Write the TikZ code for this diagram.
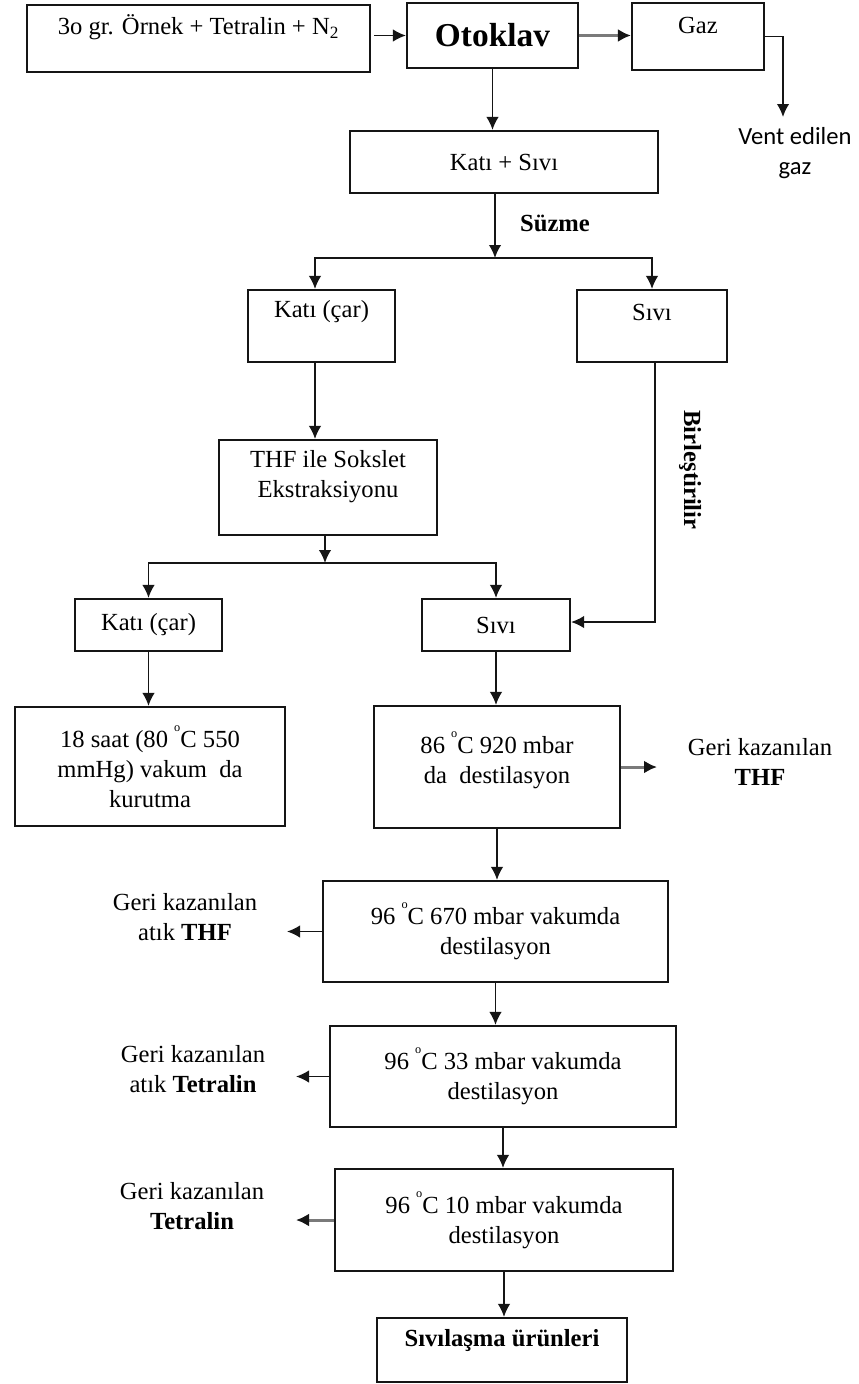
\documentclass[tikz,border=0pt]{standalone}
\usepackage{fontspec}
\setmainfont{Liberation Serif}
\newfontfamily\ventYazi{Carlito}
\definecolor{akisSiyah}{HTML}{151515}
\definecolor{akisGri}{HTML}{7A7A7A}
\usetikzlibrary{
	arrows.meta,
	positioning
}
\newcommand{\derece}{\raisebox{1.4ex}{\scriptsize o}}
\tikzset{
	kutuAkis/.style={
		draw=akisSiyah,
		line width=1.2pt,
		align=center,
		inner sep=3pt,
		font=\fontsize{14}{17}\selectfont
	},
	kutuBaslik/.style={
		kutuAkis,
		font=\fontsize{19}{22}\selectfont\bfseries
	},
	notAkis/.style={
		align=center,
		inner sep=1pt,
		font=\fontsize{14}{17}\selectfont
	},
	notKalin/.style={
		notAkis,
		font=\fontsize{14}{17}\selectfont\bfseries
	},
	okAkis/.style={
		-{Latex[length=2.6mm,width=2.5mm]},
		line width=1pt,
		draw=akisSiyah
	},
	okGri/.style={
		-{Latex[length=2.6mm,width=2.6mm,color=akisSiyah]},
		line width=1.7pt,
		draw=akisGri
	}
}

\begin{document}
\begin{tikzpicture}[x=0.2mm, y=-0.2mm]
	\useasboundingbox (0,0) rectangle (858,1384);
	\node[kutuAkis, minimum width=68.6mm, minimum height=13.4mm] (ornek) at (198.5,38.5) {3o gr. Örnek + Tetralin + N\textsubscript{2}\\[-0.4mm]\mbox{}};
	\node[kutuBaslik, minimum width=34.2mm, minimum height=13mm] (otoklav) at (492.5,35.5) {Otoklav};
	\node[kutuAkis, minimum width=26.4mm, minimum height=13.4mm] (gaz) at (698,36.5) {Gaz\\[-1.4mm]\mbox{}};
	\node[notAkis, font=\fontsize{14}{17}\selectfont\ventYazi] (vent) at (795,153) {Vent edilen\\gaz};
	\node[kutuAkis, minimum width=61.6mm, minimum height=12.4mm] (katiSivi) at (504,162) {Katı + Sıvı};
	\node[notKalin] (suzme) at (555,223) {Süzme};
	\node[kutuAkis, minimum width=29.4mm, minimum height=14.4mm] (kati1) at (321.5,326) {Katı (çar)\\[0.8mm]\mbox{}};
	\node[kutuAkis, minimum width=30mm, minimum height=14.4mm] (sivi1) at (652,326) {Sıvı\\[-0.4mm]\mbox{}};
	\node[kutuAkis, minimum width=43.6mm, minimum height=19mm] (sokslet) at (328,487.5) {THF ile Sokslet\\Ekstraksiyonu\\[-0.6mm]\mbox{}};
	\node[notKalin, rotate=-90] (birlestir) at (690,470) {Birleştirilir};
	\node[kutuAkis, minimum width=29.4mm, minimum height=10.4mm] (kati2) at (148.5,625) {Katı (çar)};
	\node[kutuAkis, minimum width=29.6mm, minimum height=10.4mm] (sivi2) at (496,625) {Sıvı};
	\node[kutuAkis, minimum width=54mm, minimum height=23.8mm] (kurutma) at (150,766.5) {18 saat (80 \derece C 550\\mmHg) vakum\ \ da\\kurutma};
	\node[kutuAkis, minimum width=49.2mm, minimum height=24.4mm] (dest1) at (497,767) {86 \derece C 920 mbar\\da\ \ destilasyon\\[-2.2mm]\mbox{}};
	\node[notAkis] (geriThf) at (760,762) {Geri kazanılan\\\textbf{THF}};
	\node[kutuAkis, minimum width=69mm, minimum height=20.2mm] (dest2) at (495.5,931.5) {96 \derece C 670 mbar vakumda\\destilasyon};
	\node[notAkis] (geriAtikThf) at (185,917.5) {Geri kazanılan\\atık \textbf{THF}};
	\node[kutuAkis, minimum width=69.2mm, minimum height=20.2mm] (dest3) at (503,1076.5) {96 \derece C 33 mbar vakumda\\destilasyon};
	\node[notAkis] (geriAtikTetralin) at (193,1069.5) {Geri kazanılan\\atık \textbf{Tetralin}};
	\node[kutuAkis, minimum width=67.6mm, minimum height=20.4mm] (dest4) at (504,1220) {96 \derece C 10 mbar vakumda\\destilasyon};
	\node[notAkis] (geriTetralin) at (192,1206.5) {Geri kazanılan\\\textbf{Tetralin}};
	\node[kutuAkis, font=\fontsize{14}{17}\selectfont\bfseries, minimum width=50mm, minimum height=12.8mm] (urun) at (502,1350) {Sıvılaşma ürünleri\\[-1.1mm]\mbox{}};
	\coordinate (ventUc) at (783,117);
	\coordinate (ayrim1) at (495,258);
	\coordinate (ayrim2) at (325,563);
	\coordinate (thfUc) at (657,767);
	\coordinate (atikThfUc) at (287,931.5);
	\coordinate (atikTetralinUc) at (296,1076.5);
	\coordinate (tetralinUc) at (296,1220);
	\draw[okAkis, shorten <=0.6mm] (ornek.east |- otoklav.west) -- (otoklav.west);
	\draw[okGri] (otoklav.east) -- (otoklav.east -| gaz.west);
	\draw[okAkis] (gaz.east) -| (ventUc);
	\draw[okAkis] (otoklav.south) -- (otoklav.south |- katiSivi.north);
	\draw[okAkis] (katiSivi.south -| ayrim1) -- (ayrim1);
	\draw[okAkis] (ayrim1) -| ([xshift=-1.3mm]kati1.north);
	\draw[okAkis] (ayrim1) -| (sivi1.north);
	\draw[okAkis] ([xshift=-1.3mm]kati1.south) -- ([xshift=-1.3mm]kati1.south |- sokslet.north);
	\draw[okAkis] (sokslet.south -| ayrim2) -- (ayrim2);
	\draw[okAkis] (ayrim2) -| (kati2.north);
	\draw[okAkis] (ayrim2) -| (sivi2.north);
	\draw[okAkis] ([xshift=0.6mm]sivi1.south) |- ([yshift=0.6mm]sivi2.east);
	\draw[okAkis] (kati2.south) -- (kati2.south |- kurutma.north);
	\draw[okAkis] (sivi2.south) -- (sivi2.south |- dest1.north);
	\draw[okGri] (dest1.east) -- (thfUc);
	\draw[okAkis] (dest1.south) -- (dest1.south |- dest2.north);
	\draw[okAkis] (dest2.west) -- (atikThfUc);
	\draw[okAkis] (dest2.south) -- (dest2.south |- dest3.north);
	\draw[okAkis] (dest3.west) -- (atikTetralinUc);
	\draw[okAkis] (dest3.south) -- (dest3.south |- dest4.north);
	\draw[okGri] (dest4.west) -- (tetralinUc);
	\draw[okAkis] (dest4.south) -- (dest4.south |- urun.north);
\end{tikzpicture}
\end{document}
